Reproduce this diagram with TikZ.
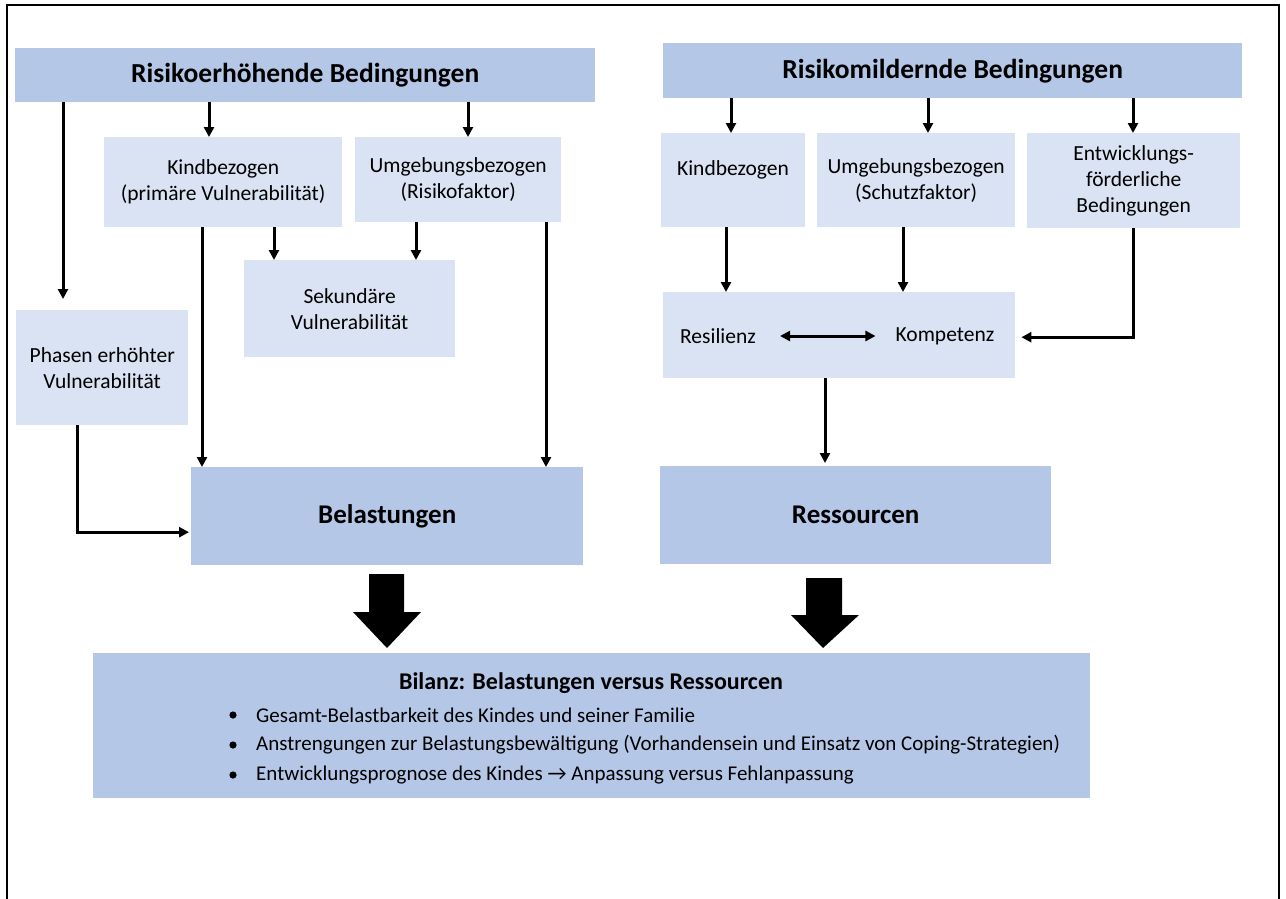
\documentclass[tikz,border=0pt]{standalone}
\usepackage{fontspec}
\setmainfont{Carlito}
\usetikzlibrary{arrows.meta}
\definecolor{dkblue}{HTML}{B4C7E7}
\definecolor{ltblue}{HTML}{DAE3F3}
\tikzset{
  boxbase/.style={anchor=north west, inner sep=0pt, draw=none, align=center},
  dbox/.style={boxbase, fill=dkblue, font=\fontsize{27}{31}\selectfont\bfseries},
  titlebox/.style={dbox, font=\fontsize{27.5}{31}\selectfont\bfseries},
  lbox/.style={boxbase, fill=ltblue, font=\fontsize{21.5}{26}\selectfont},
  txt/.style={inner sep=0pt, align=center, font=\fontsize{21.5}{26}\selectfont},
  bullettxt/.style={inner sep=0pt, anchor=west, font=\fontsize{21}{25}\selectfont},
  arr/.style={line width=3pt, -{Triangle[length=10pt,width=10pt]}},
  darr/.style={line width=3pt, {Triangle[length=10pt,width=10pt]}-{Triangle[length=10pt,width=10pt]}},
  blockarrow/.style={fill=black, draw=none},
  frame/.style={line width=2pt, draw=black}
}
\begin{document}
\begin{tikzpicture}[x=1pt,y=-1pt]
\useasboundingbox (0,0) rectangle (1286,899);
\fill[white] (0,0) rectangle (1286,899);
% frame (open at bottom)
\draw[frame] (7,899) -- (7,5) -- (1279,5) -- (1279,899);

% top bars
\node[titlebox, minimum width=580pt, minimum height=54pt] (r1) at (15,48) {Risikoerhöhende Bedingungen};
\node[titlebox, minimum width=579pt, minimum height=55pt] (r2) at (663,43) {Risikomildernde Bedingungen};

% left side
\node[lbox, minimum width=238pt, minimum height=90pt] (kb) at (104,137) {Kindbezogen\\(primäre Vulnerabilität)};
\node[lbox, minimum width=206pt, minimum height=85pt] (ub) at (355,137) {Umgebungsbezogen\\(Risikofaktor)};
\node[lbox, minimum width=211pt, minimum height=97pt] (sek) at (244,260) {Sekundäre\\Vulnerabilität};
\node[lbox, minimum width=172pt, minimum height=115pt] (ph) at (16,310) {Phasen erhöhter\\Vulnerabilität};
\node[dbox, minimum width=392pt, minimum height=98pt] (bel) at (191,467) {Belastungen};

% right side
\node[lbox, minimum width=144pt, minimum height=94pt] (kr) at (661,133) {};
\node[txt] (krt) at (733,170) {Kindbezogen};
\node[lbox, minimum width=198pt, minimum height=94pt] (us) at (817,133) {Umgebungsbezogen\\(Schutzfaktor)};
\node[lbox, minimum width=213pt, minimum height=95pt] (ef) at (1027,133) {Entwicklungs-\\förderliche\\Bedingungen};
\node[lbox, minimum width=352pt, minimum height=86pt] (rk) at (663,292) {};
\node[txt] (resi) at (718,336) {Resilienz};
\node[txt] (komp) at (945,336) {Kompetenz};
\node[dbox, minimum width=391pt, minimum height=98pt] (res) at (660,466) {Ressourcen};

% Bilanz
\node[dbox, minimum width=997pt, minimum height=145pt] (bil) at (93,653) {};
\node[inner sep=0pt, font=\fontsize{24}{28}\selectfont\bfseries] (bilt) at (591,683) {Bilanz: Belastungen versus Ressourcen};
\node[bullettxt] (b1) at (256,715) {Gesamt-Belastbarkeit des Kindes und seiner Familie};
\node[bullettxt] (b2) at (256,745) {Anstrengungen zur Belastungsbewältigung (Vorhandensein und Einsatz von Coping-Strategien)};
\node[bullettxt] (b3) at (256,775) {Entwicklungsprognose des Kindes \symbol{"2192} Anpassung versus Fehlanpassung};
\foreach \yy in {715,745,775} \fill (233,\yy) circle (3.6pt);

% left connectors
\draw[arr, shorten >=11pt] ([xshift=48pt]r1.south west) -- ([xshift=47pt]ph.north west);
\draw[arr] ([xshift=194pt]r1.south west) -- ([xshift=105pt]kb.north west);
\draw[arr] ([xshift=453pt]r1.south west) -- ([xshift=113pt]ub.north west);
\draw[arr] ([xshift=98pt]kb.south west) -- ([xshift=11pt]bel.north west);
\draw[arr] ([xshift=170pt]kb.south west) -- ([xshift=30pt]sek.north west);
\draw[arr] ([xshift=61pt]ub.south west) -- ([xshift=172pt]sek.north west);
\draw[arr] ([xshift=191pt]ub.south west) -- ([xshift=355pt]bel.north west);
\draw[arr, shorten >=2pt] ([xshift=61pt]ph.south west) |- ([yshift=-16pt]bel.west);

% right connectors
\draw[arr] ([xshift=68pt]r2.south west) -- ([xshift=70pt]kr.north west);
\draw[arr] ([xshift=265pt]r2.south west) -- ([xshift=111pt]us.north west);
\draw[arr] ([xshift=470pt]r2.south west) -- ([xshift=106pt]ef.north west);
\draw[arr] ([xshift=65pt]kr.south west) -- ([xshift=63pt]rk.north west);
\draw[arr] ([xshift=86pt]us.south west) -- ([xshift=240pt]rk.north west);
\draw[arr, shorten >=6pt] ([xshift=106pt]ef.south west) |- ([yshift=-2pt]rk.east);
\draw[arr, shorten >=3pt] ([xshift=162pt]rk.south west) -- ([xshift=165pt]res.north west);
\draw[darr, shorten <=24pt, shorten >=20pt] (resi.east) -- (komp.west);

% block arrows
\path[blockarrow] (369,574) -- (404,574) -- (404,612) -- (421,612) -- (387,648) -- (353,612) -- (369,612) -- cycle;
\path[blockarrow] (806,578) -- (842,578) -- (842,615) -- (859,615) -- (823,648) -- (791,615) -- (806,615) -- cycle;
\end{tikzpicture}
\end{document}
